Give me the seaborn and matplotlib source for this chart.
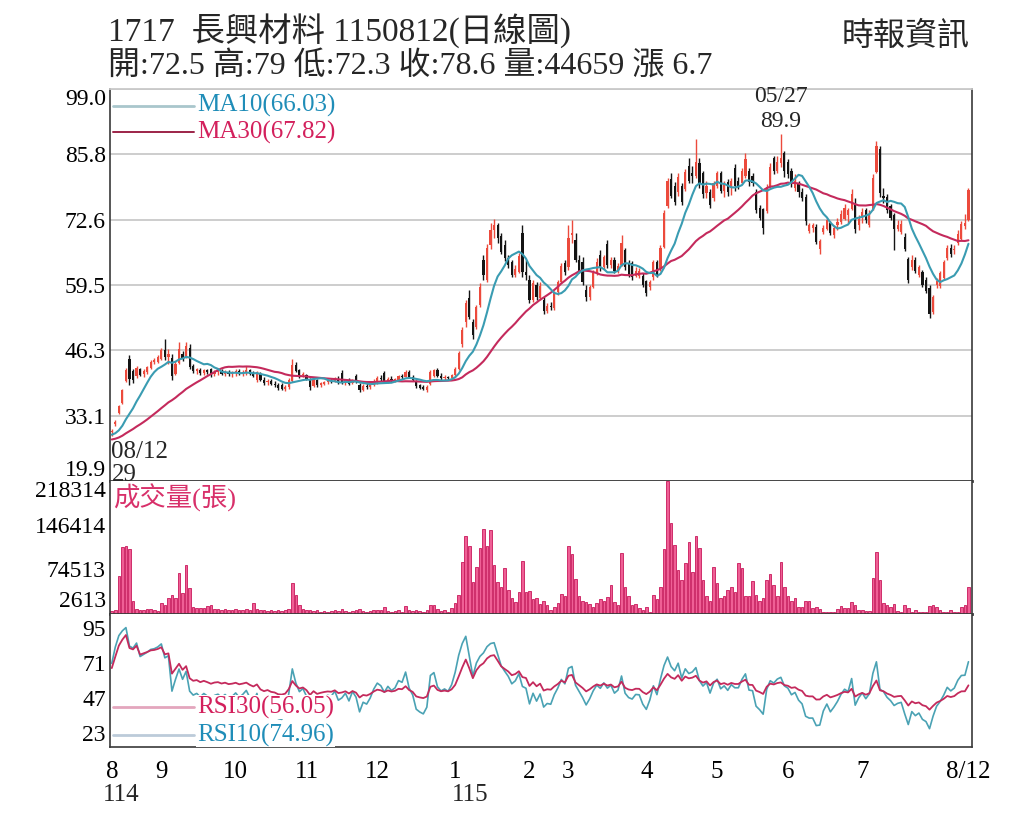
import numpy as np
import pandas as pd
import matplotlib
matplotlib.use("Agg")
import matplotlib.pyplot as plt
import seaborn as sns
from matplotlib.transforms import blended_transform_factory

sns.set_theme(style="white")
plt.rcParams['font.family'] = ['Liberation Serif', 'Noto Sans CJK TC', 'DejaVu Sans']

# ---------------- data ----------------
month_labels = ['8', '9', '10', '11', '12', '1', '2', '3', '4', '5', '6', '7', '8/12']
month_days = [14, 21, 20, 20, 22, 21, 11, 22, 20, 20, 21, 23, 8]
year_labels = ['114', '115']

title_text = "1717  長興材料 1150812(日線圖)"
source_text = "時報資訊"
ma10_label = "MA10(66.03)"
ma30_label = "MA30(67.82)"
rsi30_label = "RSI30(56.05)"
rsi10_label = "RSI10(74.96)"
vol_label = "成交量(張)"
first_date = "08/12"
high_date = "05/27"

price_ticks = [19.9, 33.1, 46.3, 59.5, 72.6, 85.8, 99.0]
vol_ticks = [2613, 74513, 146414, 218314]
rsi_ticks = [23, 47, 71, 95]

# closes before the first shown day (only used to warm up MA / RSI)
pre_closes = [27.2, 27.5, 27.3, 27.8, 27.6, 27.4, 27.9, 28.1, 27.7, 27.5,
              27.3, 27.6, 27.9, 28.2, 28.0, 27.7, 27.9, 28.3, 28.6, 28.4,
              28.8, 29.1, 28.9, 29.3, 29.5, 29.2, 29.0, 29.4, 29.2]

opens = [
    29.8, 31.4, 33.6, 35.6, 40.0, 44.6, 42.0, 41.0, 42.4, 41.4, 41.9, 42.8, 44.0, 44.0,
    44.6, 46.4, 45.0, 44.8, 41.5, 43.8, 45.6, 45.0, 46.8, 43.2, 42.0, 42.3, 41.6, 42.2, 42.4, 41.4, 41.8, 42.0, 41.5, 41.9, 41.4,
    41.6, 42.0, 41.5, 41.6, 42.2, 41.5, 40.2, 41.5, 40.2, 39.8, 40.0, 39.5, 39.2, 39.3, 38.5, 38.8, 40.0, 43.4, 42.3, 41.3,
    41.2, 40.4, 39.0, 40.2, 39.3, 39.4, 39.9, 40.1, 40.0, 40.5, 41.6, 39.8, 40.2, 39.6, 41.0, 39.3, 38.3, 39.0, 38.8, 39.3,
    39.8, 40.6, 41.6, 40.0, 40.5, 40.2, 40.3, 41.0, 40.9, 41.8, 40.8, 40.0, 39.2, 38.8, 38.2, 39.5, 41.0, 42.3, 41.0, 40.6, 40.8, 40.6,
    41.2, 42.5, 47.5, 52.0, 56.8, 52.0, 51.0, 55.5, 64.5, 60.5, 67.5, 70.5, 71.5, 69.3, 67.5, 64.8, 64.0, 61.5, 62.0, 70.0, 62.0,
    60.5, 56.5, 59.5, 56.8, 56.5, 54.2, 55.3, 54.8, 58.0, 60.0, 63.8,
    63.0, 69.5, 68.5, 64.5, 64.0, 58.5, 57.0, 59.0, 61.8, 65.5, 63.0, 67.8, 63.5, 64.5, 62.3, 63.5, 66.5, 63.8, 63.8, 61.2, 61.3, 61.2,
    60.2, 59.0, 61.0, 64.0, 62.6, 67.2, 75.3, 80.8, 79.5, 78.2, 79.5, 78.8, 83.5, 82.0, 81.5, 84.0, 82.0, 78.0, 78.2, 77.0,
    79.5, 82.0, 78.5, 80.2, 79.0, 83.0, 80.5, 80.0, 81.4, 82.5, 81.5, 78.2, 75.0, 74.7, 74.3, 79.5, 85.0, 82.5, 84.0, 86.0,
    84.2, 82.5, 79.0, 80.0, 78.2, 77.2, 70.3, 71.0, 71.2, 66.8, 70.2, 70.8, 72.0, 69.5, 71.5, 72.2, 72.8, 73.5, 74.8, 76.0, 71.5,
    73.0, 74.5, 71.5, 74.8, 82.2, 86.8, 77.5, 77.2, 75.3, 73.5, 70.8, 70.2, 69.2, 64.6, 63.0, 64.5, 61.5, 62.0, 60.5, 58.8, 54.0, 59.5, 59.2,
    60.8, 64.8, 67.0, 66.5, 68.0, 68.8, 71.3, 72.5,
]

highs = [
    30.4, 32.2, 35.3, 38.5, 42.8, 45.3, 42.6, 43.2, 42.8, 42.6, 43.1, 44.3, 44.8, 45.3,
    46.8, 48.5, 46.5, 45.5, 44.2, 48.0, 46.2, 48.0, 47.5, 43.6, 42.8, 42.8, 42.6, 42.6, 42.8, 42.2, 42.4, 42.6, 42.3, 42.3, 42.0,
    42.4, 42.5, 42.2, 43.2, 42.6, 42.0, 42.0, 41.8, 40.8, 40.4, 40.5, 40.0, 39.6, 39.6, 39.2, 40.6, 44.5, 44.0, 42.6, 41.8,
    41.5, 40.6, 40.6, 40.5, 39.9, 40.0, 40.4, 40.5, 40.8, 41.0, 42.3, 40.5, 40.6, 40.5, 41.5, 39.6, 39.4, 39.6, 39.5, 40.4,
    41.0, 41.2, 42.0, 40.8, 41.0, 40.7, 41.2, 41.5, 42.3, 42.2, 41.2, 40.3, 39.5, 39.2, 39.2, 42.2, 42.5, 42.8, 41.6, 41.2, 41.1, 41.5,
    43.0, 46.2, 51.0, 56.5, 58.5, 52.5, 55.5, 59.8, 65.5, 67.8, 72.0, 72.8, 72.0, 70.0, 68.5, 65.5, 64.5, 63.5, 66.0, 71.5, 64.5,
    61.5, 60.5, 60.0, 60.0, 57.0, 55.8, 56.0, 58.2, 60.5, 63.8, 64.5,
    71.5, 72.5, 70.0, 65.5, 65.0, 59.5, 59.5, 62.5, 64.8, 66.5, 65.5, 68.5, 65.0, 65.0, 63.8, 69.5, 67.0, 64.5, 64.3, 63.0, 62.8, 61.8,
    60.5, 60.5, 64.5, 64.5, 67.5, 74.5, 81.0, 82.0, 80.2, 82.0, 80.0, 82.8, 85.0, 83.5, 89.0, 85.0, 82.5, 80.5, 78.8, 80.5,
    82.5, 82.5, 80.5, 80.8, 81.0, 83.8, 81.2, 83.0, 86.0, 83.0, 82.0, 78.8, 75.5, 75.0, 79.8, 84.0, 85.5, 85.5, 89.9, 86.5,
    84.8, 83.0, 81.8, 80.5, 79.0, 77.8, 72.0, 72.0, 71.8, 68.8, 71.5, 73.0, 72.3, 71.5, 73.0, 74.5, 75.8, 75.0, 78.8, 77.0, 73.5,
    75.0, 75.0, 74.5, 81.8, 88.5, 87.5, 79.0, 77.8, 75.8, 74.0, 72.5, 72.5, 70.0, 65.0, 65.5, 65.0, 63.5, 62.5, 61.0, 59.5, 57.5, 60.8, 62.3,
    64.5, 67.6, 67.8, 67.5, 70.5, 72.3, 73.8, 79.0,
]

lows = [
    29.0, 31.0, 33.4, 35.4, 39.8, 39.3, 39.6, 40.6, 41.0, 40.9, 41.5, 42.5, 43.5, 43.8,
    44.3, 44.4, 43.5, 40.3, 41.2, 43.5, 44.2, 44.8, 42.4, 41.6, 41.4, 41.2, 41.3, 41.5, 40.8, 41.0, 41.3, 41.2, 41.0, 41.1, 40.9,
    41.0, 41.2, 41.0, 41.3, 41.2, 40.8, 39.8, 40.0, 39.3, 39.3, 39.2, 38.8, 38.3, 38.2, 38.0, 38.5, 39.8, 41.8, 40.7, 40.8,
    40.2, 38.3, 38.8, 38.8, 38.9, 39.2, 39.4, 39.6, 39.8, 39.4, 39.4, 39.3, 39.3, 39.4, 39.6, 37.9, 38.0, 38.5, 38.4, 39.0,
    39.5, 40.0, 39.7, 39.6, 39.9, 39.8, 40.1, 40.5, 40.8, 40.6, 40.0, 38.7, 38.4, 38.2, 37.9, 39.3, 40.8, 40.8, 40.3, 40.2, 40.3, 40.4,
    41.0, 42.3, 47.0, 51.0, 52.5, 48.5, 50.5, 55.0, 60.5, 60.0, 66.8, 69.0, 68.0, 65.8, 64.3, 62.8, 61.0, 61.0, 61.8, 61.0, 60.5,
    55.8, 56.0, 56.5, 56.5, 53.5, 53.8, 54.5, 54.5, 57.5, 59.8, 61.5,
    62.5, 68.0, 64.0, 61.8, 59.5, 56.2, 56.5, 58.8, 61.5, 62.3, 62.5, 62.8, 62.8, 61.8, 61.8, 63.2, 62.5, 61.0, 60.5, 61.0, 60.8, 59.0,
    57.2, 58.5, 60.5, 61.0, 62.2, 67.0, 75.0, 77.0, 75.5, 77.5, 75.5, 78.5, 80.0, 80.0, 81.0, 79.0, 77.0, 77.0, 75.0, 76.5,
    79.0, 78.0, 77.2, 77.4, 77.6, 78.5, 78.8, 79.8, 81.0, 79.5, 79.5, 74.0, 72.5, 69.8, 74.0, 79.0, 81.8, 82.0, 83.2, 81.2,
    81.0, 79.2, 78.5, 77.2, 76.5, 71.5, 70.0, 70.2, 67.8, 65.8, 69.8, 70.5, 69.5, 69.0, 70.5, 71.8, 72.5, 72.0, 74.5, 70.0, 70.5,
    72.0, 72.0, 71.2, 74.5, 82.0, 77.2, 76.0, 74.0, 72.5, 66.6, 70.3, 69.8, 66.3, 59.8, 62.5, 61.8, 61.0, 59.0, 57.8, 52.8, 53.5, 58.8, 58.8,
    60.5, 64.5, 65.2, 65.8, 67.5, 68.5, 70.8, 72.3,
]

closes = [
    30.0, 31.8, 35.0, 38.2, 42.3, 40.5, 40.3, 42.8, 41.3, 42.1, 42.9, 44.0, 44.3, 45.0,
    46.3, 45.0, 45.6, 41.0, 43.6, 46.6, 44.8, 47.2, 43.0, 42.0, 42.4, 41.6, 42.3, 41.8, 41.2, 41.8, 42.0, 41.5, 41.9, 41.4, 41.6,
    42.0, 41.5, 41.8, 42.2, 41.5, 41.0, 41.8, 40.2, 39.6, 40.0, 39.4, 39.2, 38.6, 38.5, 38.8, 40.3, 43.4, 42.0, 41.0, 41.4,
    40.5, 38.8, 40.2, 39.2, 39.6, 39.9, 40.1, 40.0, 40.5, 39.6, 39.8, 40.2, 39.5, 40.3, 39.8, 38.2, 39.0, 38.8, 39.3, 40.1,
    40.7, 40.5, 40.0, 40.5, 40.2, 40.4, 41.0, 40.9, 41.8, 40.8, 40.3, 39.0, 38.7, 38.5, 38.9, 41.8, 42.2, 41.0, 40.6, 40.8, 40.6, 41.2,
    42.6, 45.8, 50.3, 55.8, 53.0, 49.3, 55.0, 59.0, 61.5, 67.0, 70.5, 71.5, 69.0, 66.2, 64.8, 63.5, 61.5, 62.6, 65.3, 62.0, 61.5,
    56.5, 59.8, 57.0, 59.3, 54.2, 55.3, 55.0, 57.8, 60.0, 63.2, 62.0,
    69.0, 70.0, 64.5, 62.3, 60.0, 57.0, 59.0, 61.8, 64.0, 63.0, 65.0, 63.5, 64.5, 62.3, 63.2, 68.0, 63.0, 61.5, 61.0, 62.3, 62.2, 59.5,
    57.8, 60.0, 64.0, 61.5, 67.0, 74.0, 80.4, 77.5, 76.2, 81.2, 76.2, 82.2, 80.5, 81.5, 84.2, 79.8, 77.8, 79.5, 75.5, 80.0,
    82.0, 78.5, 79.8, 78.2, 80.5, 79.5, 79.5, 82.5, 84.8, 80.2, 80.0, 74.5, 73.0, 71.0, 79.2, 83.2, 82.4, 84.2, 85.0, 82.5,
    81.8, 79.8, 80.5, 78.2, 77.0, 72.3, 71.5, 71.5, 68.2, 68.3, 71.0, 72.5, 70.0, 71.0, 72.2, 73.8, 75.0, 74.5, 77.8, 70.8, 72.8,
    74.2, 72.5, 73.8, 81.0, 87.5, 78.0, 77.0, 74.5, 73.0, 70.8, 71.5, 71.8, 66.8, 60.5, 64.5, 62.2, 63.0, 59.5, 58.2, 53.5, 57.0, 60.2, 61.8,
    64.0, 67.0, 65.8, 66.8, 69.8, 71.8, 71.9, 78.6,
]

volumes = [
    5000, 7000, 62000, 110000, 111000, 107000, 22000, 9000, 7000, 7000, 8000, 8000, 7000, 5000,
    18000, 15000, 26000, 32000, 26000, 68000, 34000, 80000, 43000, 12000, 10000, 10000, 10000, 13000, 15000, 9000, 8000, 7000, 8000, 6000, 7000,
    8000, 6000, 7000, 9000, 6000, 18000, 8000, 7000, 6000, 5000, 6000, 5000, 7000, 5000, 6000, 8000, 51000, 32000, 15000, 9000,
    6000, 7000, 5000, 6000, 4000, 5000, 4000, 5000, 6000, 5000, 9000, 5000, 4000, 5000, 7000, 8000, 5000, 4000, 5000, 6000,
    7000, 6000, 12000, 5000, 4000, 5000, 6000, 4000, 13000, 6000, 5000, 6000, 5000, 4000, 6000, 15000, 14000, 8000, 5000, 6000, 4000, 10000,
    18000, 32000, 85000, 128000, 112000, 52000, 77000, 108000, 139000, 111000, 138000, 81000, 52000, 44000, 76000, 40000, 26000, 20000, 36000, 87000, 36000,
    38000, 25000, 26000, 17000, 22000, 14000, 6000, 12000, 18000, 33000, 29000,
    112000, 98000, 58000, 30000, 22000, 20000, 17000, 12000, 18000, 25000, 22000, 28000, 47000, 19000, 15000, 100000, 44000, 30000, 15000, 16000, 10000, 7000,
    11000, 3000, 32000, 25000, 44000, 106000, 218314, 150000, 113000, 73000, 56000, 83000, 118000, 69000, 128000, 108000, 56000, 30000, 22000, 77000,
    51000, 26000, 29000, 40000, 45000, 36000, 83000, 76000, 29000, 29000, 54000, 32000, 21000, 26000, 56000, 66000, 47000, 30000, 86000, 45000,
    29000, 21000, 26000, 12000, 11000, 21000, 22000, 10000, 11000, 9000, 4000, 4000, 4000, 4000, 9000, 13000, 10000, 10000, 20000, 15000, 7000,
    7000, 5000, 5000, 59000, 102000, 55000, 18000, 14000, 11000, 16000, 5000, 3000, 15000, 10000, 4000, 7000, 4000, 4000, 4000, 13000, 14000, 11000, 7000,
    4000, 3000, 7000, 4000, 3000, 11000, 15000, 44659,
]

# ---------------- derived ----------------
n = min(len(opens), len(highs), len(lows), len(closes), len(volumes))
df = pd.DataFrame({'open': opens[:n], 'high': highs[:n], 'low': lows[:n],
                   'close': closes[:n], 'volume': volumes[:n]})
df['day'] = np.arange(n)

allc = pd.Series(pre_closes + list(df['close']))
k = len(pre_closes)
df['ma10'] = allc.rolling(10, min_periods=1).mean().iloc[k:].values
df['ma30'] = allc.rolling(30, min_periods=1).mean().iloc[k:].values
delta = allc.diff().fillna(0)
gain = delta.clip(lower=0)
loss = (-delta).clip(lower=0)


def rsi(p):
    ag = gain.ewm(alpha=1.0 / p, adjust=False).mean()
    al = loss.ewm(alpha=1.0 / p, adjust=False).mean()
    return (100 * ag / (ag + al + 1e-9)).iloc[k:].values


df['rsi10'] = rsi(10)
df['rsi30'] = rsi(30)

starts = np.concatenate([[0], np.cumsum(month_days)[:-1]])
tick_pos = list(starts[:12]) + [n - 1]

# ---------------- colours ----------------
RED = '#ec4a3c'
BLACK = '#141414'
TEAL = '#3a9cb2'
RSI_TEAL = '#4aa2b4'
CRIMSON = '#c42a5c'
PINK_FACE = '#ef5f95'
PINK_EDGE = '#c8185a'
GRID = '#c9c9c9'
FRAME = '#3a3a3a'

# ---------------- figure ----------------
fig = plt.figure(figsize=(10.24, 8.19), dpi=100)
L = 110 / 1024
W = 862 / 1024
H = 819.0
ax_p = fig.add_axes([L, 1 - 481 / H, W, (481 - 89) / H])
ax_v = fig.add_axes([L, 1 - 614 / H, W, (614 - 481) / H], sharex=ax_p)
ax_r = fig.add_axes([L, 1 - 747 / H, W, (747 - 614) / H], sharex=ax_p)

x = df['day'].values
up = df['close'].values >= df['open'].values
ccol = np.where(up, RED, BLACK)

# candlesticks
ax_p.vlines(x, df['low'], df['high'], colors=ccol, lw=1.0, zorder=2)
body_lo = np.minimum(df['open'], df['close'])
body_h = np.maximum(np.abs(df['close'] - df['open']), 0.25)
ax_p.bar(x, body_h, bottom=body_lo, width=0.62, color=ccol, linewidth=0, zorder=2)

# moving averages
sns.lineplot(x=x, y=df['ma30'].values, ax=ax_p, color=CRIMSON, lw=1.5, zorder=3, legend=False)
sns.lineplot(x=x, y=df['ma10'].values, ax=ax_p, color=TEAL, lw=1.5, zorder=3, legend=False)

ax_p.set_ylim(price_ticks[0], price_ticks[-1])
ax_p.set_yticks(price_ticks)
ax_p.set_yticklabels([f"{t:.1f}" for t in price_ticks])
ax_p.yaxis.grid(True, color=GRID, lw=1.3)
ax_p.set_axisbelow(True)
ylabs = ax_p.get_yticklabels()
ylabs[0].set_va('bottom')
ylabs[-1].set_va('top')

# volume
ax_v.bar(x, df['volume'], width=0.72, color=PINK_FACE, edgecolor=PINK_EDGE, linewidth=0.6)
ax_v.set_ylim(0, vol_ticks[-1])
ax_v.set_yticks(vol_ticks)
ax_v.set_yticklabels([str(v) for v in vol_ticks])
vlabs = ax_v.get_yticklabels()
vlabs[0].set_va('bottom')
vlabs[-1].set_va('top')

# RSI
sns.lineplot(x=x, y=df['rsi10'].values, ax=ax_r, color=RSI_TEAL, lw=1.2, legend=False)
sns.lineplot(x=x, y=df['rsi30'].values, ax=ax_r, color=CRIMSON, lw=1.3, legend=False)
ax_r.set_ylim(13.4, 104.6)
ax_r.set_yticks(rsi_ticks)
ax_r.set_yticklabels([str(t) for t in rsi_ticks])

# axes styling
for a in (ax_p, ax_v, ax_r):
    a.set_xlim(-0.5, n + 0.0)
    a.set_xlabel('')
    a.set_ylabel('')
    a.set_facecolor('white')
    a.tick_params(axis='y', length=0, pad=3, labelsize=17, labelcolor='black')
    for s in ('left', 'right', 'bottom'):
        a.spines[s].set_color(FRAME)
        a.spines[s].set_linewidth(1.2)
    a.spines['top'].set_visible(False)
ax_p.spines['top'].set_visible(True)
ax_p.spines['top'].set_color(GRID)
ax_p.spines['top'].set_linewidth(1.3)
ax_p.spines['bottom'].set_linewidth(2.0)
ax_v.spines['bottom'].set_linewidth(2.0)

for a in (ax_p, ax_v):
    a.tick_params(axis='x', which='both', length=0, labelbottom=False)

ax_r.set_xticks(tick_pos)
ax_r.set_xticklabels(month_labels)
ax_r.set_xticks(np.arange(n), minor=True)
ax_r.tick_params(axis='x', which='major', length=4, width=0.8, color=FRAME,
                 direction='out', labelsize=18, pad=6, labelcolor='black')
ax_r.tick_params(axis='x', which='minor', length=2.5, width=0.5, color=FRAME, direction='out')

# year labels under the first tick of each year
fig.text(103 / 1024, 1 - 795 / H, year_labels[0], fontsize=18, ha='left', va='center')
fig.text(452 / 1024, 1 - 795 / H, year_labels[1], fontsize=18, ha='left', va='center')

box = dict(facecolor='white', edgecolor='none', pad=0.5)

# legends (price)
ax_p.plot([0.003, 0.098], [0.957, 0.957], transform=ax_p.transAxes, color='#a9c6cc', lw=2)
ax_p.plot([0.003, 0.098], [0.890, 0.890], transform=ax_p.transAxes, color='#9c2448', lw=1.4)
ax_p.text(0.101, 0.957, ma10_label, transform=ax_p.transAxes, color='#1f8db8',
          fontsize=18, ha='left', va='center', bbox=box, zorder=5)
ax_p.text(0.101, 0.890, ma30_label, transform=ax_p.transAxes, color='#d3205c',
          fontsize=18, ha='left', va='center', bbox=box, zorder=5)

# annotations
bt = blended_transform_factory(ax_p.transData, ax_p.transAxes)
imax = int(df['high'].idxmax())
ax_p.text(imax, 0.982, high_date, transform=bt, fontsize=17, ha='center', va='center')
ax_p.text(imax, 0.918, f"{df['high'].max():.1f}", transform=bt, fontsize=17, ha='center', va='center')
imin = int(df['low'].idxmin())
ax_p.text(imin - 0.1, 0.074, first_date, transform=bt, fontsize=18, ha='left', va='center')
ax_p.text(imin - 0.1, 0.016, f"{df['low'].min():g}", transform=bt, fontsize=18, ha='left', va='center')

# volume label
ax_v.text(0.003, 0.872, vol_label, transform=ax_v.transAxes, color='#d8306a',
          fontsize=19, ha='left', va='center')

# RSI legends
ax_r.plot([0.003, 0.098], [0.301, 0.301], transform=ax_r.transAxes, color='#e3a6bd', lw=2, zorder=5)
ax_r.plot([0.003, 0.098], [0.090, 0.090], transform=ax_r.transAxes, color='#bccbd9', lw=2, zorder=5)
ax_r.text(0.101, 0.301, rsi30_label, transform=ax_r.transAxes, color='#d3205c',
          fontsize=18, ha='left', va='center', bbox=box, zorder=6)
ax_r.text(0.101, 0.090, rsi10_label, transform=ax_r.transAxes, color='#1f8db8',
          fontsize=18, ha='left', va='center', bbox=box, zorder=6)

# header texts
last = df.iloc[-1]
prev_close = df['close'].iloc[-2]
info = (f"開:{last['open']:g} 高:{last['high']:g} 低:{last['low']:g} "
        f"收:{last['close']:g} 量:{int(last['volume'])} 漲 {last['close'] - prev_close:.1f}")
fig.text(108 / 1024, 1 - 31 / H, title_text, fontsize=24, ha='left', va='center')
fig.text(108 / 1024, 1 - 67 / H, info, fontsize=23, ha='left', va='center')
fig.text(970 / 1024, 1 - 37 / H, source_text, fontsize=23, ha='right', va='center')

fig.savefig('out.png', dpi=100, facecolor='white')
